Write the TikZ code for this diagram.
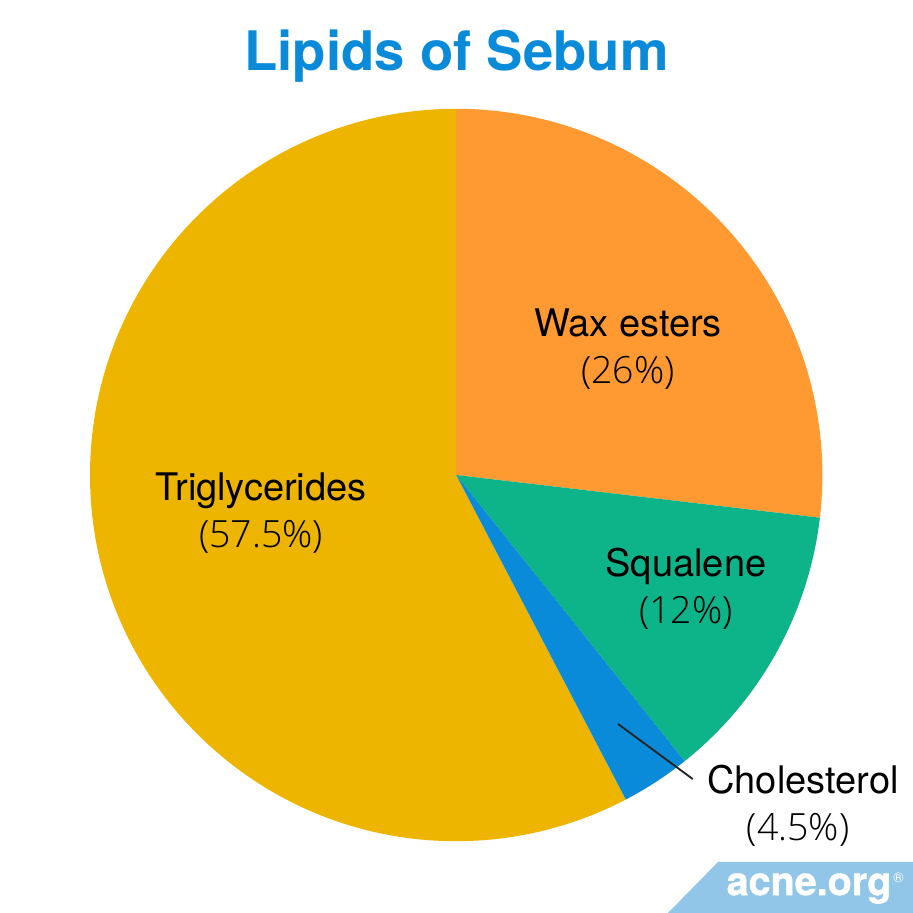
\documentclass[tikz,border=0pt]{standalone}
\usepackage{fontspec}
\setmainfont{TeX Gyre Heros}
\newfontfamily\lightfont{Open Sans Light}
\newfontfamily\logofont[FakeBold=1.2]{TeX Gyre Heros Bold}
\definecolor{gold}{HTML}{EDB500}
\definecolor{orangeC}{HTML}{FF9A32}
\definecolor{greenC}{HTML}{0DB48A}
\definecolor{blueC}{HTML}{0A8BD9}
\definecolor{badge}{HTML}{91C6E8}
\newcommand{\pct}[1]{{\lightfont\fontsize{37.5}{47}\selectfont #1}}
\tikzset{
  lab/.style={font=\fontsize{38}{47}\selectfont,align=center,text=black,inner sep=0pt},
  slice/.style={draw=none},
  leader/.style={draw=black!85,line width=1.9pt}
}
\begin{document}
\begin{tikzpicture}[x=1pt,y=1pt]
\useasboundingbox (0,0) rectangle (913,913);
\fill[white] (0,0) rectangle (913,913);
\coordinate (c) at (456.2,438);
\def\R{366.2}
\fill[slice,gold] (c) -- ++(90:\R) arc[start angle=90,delta angle=207.6,radius=\R] -- cycle;
\fill[slice,orangeC] (c) -- ++(90:\R) arc[start angle=90,delta angle=-96.7,radius=\R] -- cycle;
\fill[slice,greenC] (c) -- ++(-6.7:\R) arc[start angle=-6.7,delta angle=-44.7,radius=\R] -- cycle;
\fill[slice,blueC] (c) -- ++(-51.4:\R) arc[start angle=-51.4,delta angle=-11,radius=\R] -- cycle;
\node[lab] (title) at (456.5,857) {\fontsize{54.5}{60}\selectfont\bfseries\color{blueC}Lipids of Sebum};
\node[lab] (wax) at (628,563.5) {Wax esters\\\pct{(26\%)}};
\node[lab] (tri) at (261,399.5) {Triglycerides\\\pct{(57.5\%)}};
\node[lab] (squ) at (686,324.5) {Squalene\\\pct{(12\%)}};
\node[lab] (cho) at (803,107) {Cholesterol\\\pct{(4.5\%)}\hspace*{10pt}};
\coordinate (la) at (618,189);
\coordinate (lb) at (692.7,134);
\draw[leader] (la) -- (lb);
\fill[badge] (718,51) -- (913,51) -- (913,0) -- (668,0) -- cycle;
\node[inner sep=0pt,text=white,font=\fontsize{39.5}{40}\logofont] (logo) at (809,24.5) {acne.org};
\node[inner sep=0pt,text=white,font=\fontsize{14}{14}\selectfont] (reg) at (898.5,35) {\textregistered};
\end{tikzpicture}
\end{document}
